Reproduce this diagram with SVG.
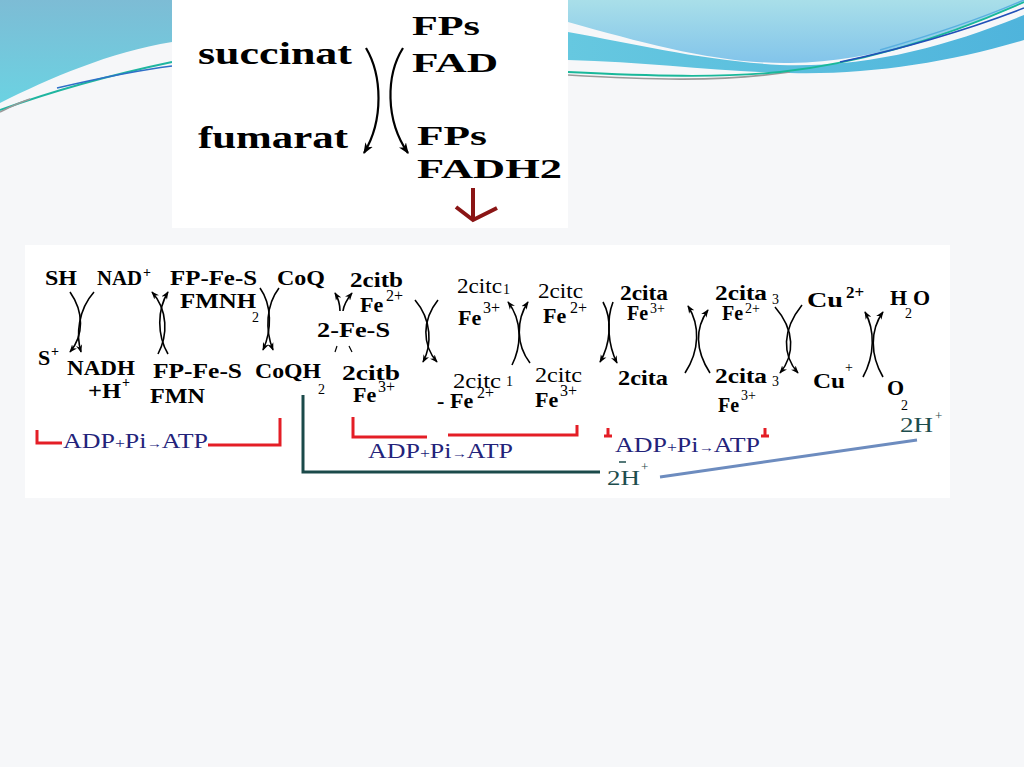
<svg xmlns="http://www.w3.org/2000/svg" width="1024" height="767" viewBox="0 0 1024 767">
<defs>
<linearGradient id="gL" x1="0" y1="0" x2="0" y2="1"><stop offset="0" stop-color="#7dbcd5"/><stop offset="1" stop-color="#6bd2e2"/></linearGradient>
<linearGradient id="gA" x1="0" y1="0" x2="0" y2="1"><stop offset="0" stop-color="#a9dfe9"/><stop offset="1" stop-color="#82c4ea"/></linearGradient>
<linearGradient id="gB" x1="0" y1="0" x2="1" y2="0"><stop offset="0" stop-color="#66c8e0"/><stop offset="1" stop-color="#4fb4dc"/></linearGradient>
<marker id="ah" viewBox="0 0 10 8" refX="9" refY="4" markerWidth="8" markerHeight="7" markerUnits="userSpaceOnUse" orient="auto"><path d="M0,0 L10,4 L0,8 L3,4 Z" fill="#000"/></marker>
<marker id="ahBig" viewBox="0 0 10 8" refX="9" refY="4" markerWidth="11" markerHeight="9" markerUnits="userSpaceOnUse" orient="auto"><path d="M0,0 L10,4 L0,8 L3,4 Z" fill="#000"/></marker>
</defs>
<style>
.b{font-family:"Liberation Serif","Times New Roman",serif;font-weight:bold;fill:#000}
.r{font-family:"Liberation Serif","Times New Roman",serif;font-weight:normal;fill:#000}
.m{font-size:22px}
.s{font-size:14px}
.s2{font-size:16px}
.top{font-size:31px}
.fp{font-size:28px}
.adp{font-family:"Liberation Serif","Times New Roman",serif;font-size:22px;fill:#23237a}
.h{font-family:"Liberation Serif","Times New Roman",serif;font-size:20px;fill:#1d4d4d}
.arr{fill:none;stroke:#000;stroke-width:1.6;marker-end:url(#ah)}
.arrT{fill:none;stroke:#000;stroke-width:2.2;marker-end:url(#ahBig)}
.red{fill:none;stroke:#e41e26;stroke-width:3}
</style>
<rect width="1024" height="767" fill="#f6f7f9"/>
<g id="header">
<path d="M0,0 H172 V42 C110,52 50,78 0,103 Z" fill="url(#gL)"/>
<path d="M0,110 C50,92 110,75 172,62" fill="none" stroke="#1fb5a0" stroke-width="2"/>
<path d="M57,88 C100,78 140,70 172,66" fill="none" stroke="#2f6fc8" stroke-width="1.6"/>
<path d="M0,112 C10,107 20,102 30,99" fill="none" stroke="#999" stroke-width="1.5"/>
<path d="M568,0 H1024 V3 C960,30 880,62 790,63 C720,64 650,45 568,22 Z" fill="url(#gA)"/>
<path d="M568,32 C640,45 700,60 780,65 C870,68 950,45 1024,15 V40 C950,62 870,75 790,73 C720,72 650,62 568,60 Z" fill="url(#gB)"/>
<path d="M568,75 C650,80 720,82 790,72" fill="none" stroke="#9a9a9a" stroke-width="1.6"/>
<path d="M568,72 C650,76 720,78 780,72 C870,62 950,35 1024,2" fill="none" stroke="#19b89a" stroke-width="1.8"/>
<path d="M840,62 C920,45 980,25 1024,8" fill="none" stroke="#2050b8" stroke-width="1.6"/>
<path d="M880,50 C950,30 990,15 1024,0" fill="none" stroke="#5ab0e0" stroke-width="1.4"/>
</g>
<rect x="172" y="0" width="396" height="228" fill="#fff"/>
<rect x="25" y="245" width="925" height="253" fill="#fff"/>
<g id="connectors">
<path class="arrT" d="M366,48 C382,75 384,120 364,153"/>
<path class="arrT" d="M403,48 C386,75 385,120 408,153"/>
<path d="M473,188 V220 M456,207 L473,220 L497,208" fill="none" stroke="#8a1515" stroke-width="4"/>
<path class="arr" d="M70,292 C84,312 84,335 70,352"/>
<path class="arr" d="M94,292 C78,310 76,335 81,352"/>
<path class="arr" d="M158,354 C168,335 168,310 152,292"/>
<path class="arr" d="M168,354 C157,335 157,310 168,292"/>
<path class="arr" d="M260,288 C272,305 272,330 263,350"/>
<path class="arr" d="M279,288 C266,305 265,330 273,350"/>
<path class="arr" d="M340,311 C340,303 338,298 335,293"/>
<path class="arr" d="M343,311 C344,303 348,298 352,293"/>
<path d="M337,346 L335,352 M349,346 L352,352" stroke="#000" stroke-width="1.2"/>
<path class="arr" d="M415,300 C432,320 432,345 423,362"/>
<path class="arr" d="M438,300 C422,320 422,345 437,362"/>
<path class="arr" d="M512,365 C522,345 522,320 508,302"/>
<path class="arr" d="M530,363 C516,345 516,320 528,302"/>
<path class="arr" d="M603,302 C613,320 610,345 600,362"/>
<path class="arr" d="M613,302 C606,320 608,345 617,363"/>
<path class="arr" d="M685,373 C700,350 700,325 688,306"/>
<path class="arr" d="M710,373 C695,350 695,328 708,310"/>
<path class="arr" d="M775,307 C795,330 795,355 780,373"/>
<path class="arr" d="M802,305 C782,330 782,355 798,373"/>
<path class="arr" d="M863,377 C875,355 875,330 865,312"/>
<path class="arr" d="M883,377 C870,355 870,330 883,312"/>
<polyline class="red" points="37,430 37,443 62,443"/>
<polyline class="red" points="208,445 280,445 280,418"/>
<polyline class="red" points="353,417 353,437 427,437"/>
<polyline class="red" points="448,435 577,435 577,425"/>
<path class="red" d="M608,428 V436 M604,436 H612 M765,428 V436 M761,436 H769"/>
<polyline points="303,395 303,472 600,472" fill="none" stroke="#1b4a4a" stroke-width="3"/>
<line x1="660" y1="477" x2="917" y2="440" stroke="#6d8cbf" stroke-width="3"/>
</g>
<g id="succinat"><text class="b top" x="198" y="64" textLength="154" lengthAdjust="spacingAndGlyphs">succinat</text></g>
<g id="fumarat"><text class="b top" x="198" y="148" textLength="150" lengthAdjust="spacingAndGlyphs">fumarat</text></g>
<g id="fps-fad"><text class="b fp" x="412" y="35" textLength="68" lengthAdjust="spacingAndGlyphs">FPs</text><text class="b fp" x="412" y="72" textLength="86" lengthAdjust="spacingAndGlyphs">FAD</text></g>
<g id="fps-fadh2"><text class="b fp" x="417" y="145" textLength="70" lengthAdjust="spacingAndGlyphs">FPs</text><text class="b fp" x="417" y="178" textLength="145" lengthAdjust="spacingAndGlyphs">FADH2</text></g>
<g id="sh"><text class="b m" x="45" y="285" textLength="32" lengthAdjust="spacingAndGlyphs">SH</text></g>
<g id="nad"><text class="b m" x="97" y="285" textLength="45" lengthAdjust="spacingAndGlyphs">NAD</text><text class="b s" x="143" y="277">+</text></g>
<g id="fp-fmnh2"><text class="b m" x="170" y="285" textLength="87" lengthAdjust="spacingAndGlyphs">FP-Fe-S</text><text class="b m" x="180" y="308" textLength="76" lengthAdjust="spacingAndGlyphs">FMNH</text><text class="r s" x="252" y="322">2</text></g>
<g id="coq"><text class="b m" x="277" y="285" textLength="48" lengthAdjust="spacingAndGlyphs">CoQ</text></g>
<g id="s-plus"><text class="b m" x="38" y="365">S</text><text class="b s" x="51" y="356">+</text></g>
<g id="nadh"><text class="b m" x="67" y="375" textLength="68" lengthAdjust="spacingAndGlyphs">NADH</text><text class="b m" x="88" y="398" textLength="33" lengthAdjust="spacingAndGlyphs">+H</text><text class="b s" x="122" y="387">+</text></g>
<g id="fp-fmn"><text class="b m" x="153" y="378" textLength="89" lengthAdjust="spacingAndGlyphs">FP-Fe-S</text><text class="b m" x="150" y="403" textLength="55" lengthAdjust="spacingAndGlyphs">FMN</text></g>
<g id="coqh2"><text class="b m" x="255" y="378" textLength="66" lengthAdjust="spacingAndGlyphs">CoQH</text><text class="r s" x="318" y="394">2</text></g>
<g id="citb-fe2"><text class="b m" x="350" y="287" textLength="53" lengthAdjust="spacingAndGlyphs">2citb</text><text class="b m" x="360" y="312">Fe</text><text class="r s2" x="386" y="301">2+</text></g>
<g id="fe-s"><text class="b m" x="317" y="337" textLength="73" lengthAdjust="spacingAndGlyphs">2-Fe-S</text></g>
<g id="citb-fe3"><text class="b m" x="342" y="380" textLength="58" lengthAdjust="spacingAndGlyphs">2citb</text><text class="b m" x="353" y="402">Fe</text><text class="r s2" x="378" y="392">3+</text></g>
<g id="citc1-fe3"><text class="r m" x="457" y="293" textLength="45" lengthAdjust="spacingAndGlyphs">2citc</text><text class="r s" x="503" y="294">1</text><text class="b m" x="458" y="325">Fe</text><text class="r s2" x="483" y="313">3+</text></g>
<g id="citc-fe2"><text class="r m" x="538" y="298" textLength="45" lengthAdjust="spacingAndGlyphs">2citc</text><text class="b m" x="543" y="323">Fe</text><text class="r s2" x="570" y="313">2+</text></g>
<g id="citc1-fe2"><text class="r m" x="453" y="388" textLength="48" lengthAdjust="spacingAndGlyphs">2citc</text><text class="r s" x="506" y="386">1</text><text class="b m" x="437" y="408">-</text><text class="b m" x="450" y="408">Fe</text><text class="r s2" x="477" y="398">2+</text></g>
<g id="citc-fe3"><text class="r m" x="535" y="382" textLength="47" lengthAdjust="spacingAndGlyphs">2citc</text><text class="b m" x="535" y="407">Fe</text><text class="r s2" x="560" y="396">3+</text></g>
<g id="cita-fe3"><text class="b m" x="620" y="300" textLength="48" lengthAdjust="spacingAndGlyphs">2cita</text><text class="b" style="font-size:20px" x="627" y="320">Fe</text><text class="r s" x="650" y="313">3+</text></g>
<g id="cita"><text class="b m" x="618" y="385" textLength="50" lengthAdjust="spacingAndGlyphs">2cita</text></g>
<g id="cita3-fe2"><text class="b m" x="715" y="300" textLength="52" lengthAdjust="spacingAndGlyphs">2cita</text><text class="r s" x="772" y="304">3</text><text class="b" style="font-size:20px" x="722" y="320">Fe</text><text class="r s" x="745" y="313">2+</text></g>
<g id="cita3-fe3"><text class="b m" x="715" y="383" textLength="52" lengthAdjust="spacingAndGlyphs">2cita</text><text class="r s" x="772" y="386">3</text><text class="b" style="font-size:20px" x="718" y="412">Fe</text><text class="r s" x="741" y="400">3+</text></g>
<g id="cu2"><text class="b m" x="807" y="307" textLength="36" lengthAdjust="spacingAndGlyphs">Cu</text><text class="b" style="font-size:17px" x="846" y="298">2+</text></g>
<g id="cu1"><text class="b m" x="813" y="388" textLength="32" lengthAdjust="spacingAndGlyphs">Cu</text><text class="r s" x="845" y="372">+</text></g>
<g id="h2o"><text class="b m" x="890" y="305">H</text><text class="r s" x="905" y="318">2</text><text class="b m" x="913" y="305">O</text></g>
<g id="o2"><text class="b m" x="887" y="395">O</text><text class="r s" x="901" y="410">2</text></g>
<g id="h-right"><text class="h" x="900" y="432" textLength="33" lengthAdjust="spacingAndGlyphs">2H</text><text class="h" style="font-size:13px" x="935" y="420">+</text></g>
<g id="h-mid"><text class="h" x="607" y="485" textLength="33" lengthAdjust="spacingAndGlyphs">2H</text><line x1="619" y1="462" x2="626" y2="462" stroke="#1d4d4d" stroke-width="1.5"/><text class="h" style="font-size:13px" x="641" y="471">+</text></g>
<g id="atp1"><text class="adp" x="63" y="448" textLength="145" lengthAdjust="spacingAndGlyphs">ADP<tspan font-size="15">+</tspan>Pi<tspan font-size="13">→</tspan>ATP</text></g>
<g id="atp2"><text class="adp" x="368" y="458" textLength="145" lengthAdjust="spacingAndGlyphs">ADP<tspan font-size="15">+</tspan>Pi<tspan font-size="13">→</tspan>ATP</text></g>
<g id="atp3"><text class="adp" x="615" y="452" textLength="145" lengthAdjust="spacingAndGlyphs">ADP<tspan font-size="15">+</tspan>Pi<tspan font-size="13">→</tspan>ATP</text></g>
</svg>
